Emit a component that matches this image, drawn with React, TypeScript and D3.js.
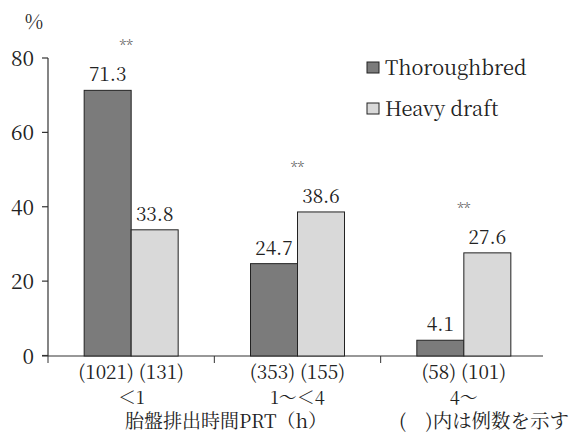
import React from "react";
import * as d3 from "d3";

const categories = ["<1", "1~<4", "4~"];
const categoryLabels = ["＜1", "1～＜4", "4～"];
const seriesNames = ["Thoroughbred", "Heavy draft"];
const thoroughbred = [71.3, 24.7, 4.1];
const heavyDraft = [33.8, 38.6, 27.6];
const countsThoroughbred = [1021, 353, 58];
const countsHeavy = [131, 155, 101];
const yTicks = [0, 20, 40, 60, 80];
const colors = ["#7b7b7b", "#d9d9d9"];

const mincho = "Noto Serif CJK JP";

export default function App() {
  const width = 572, height = 433;
  const margin = { top: 58, left: 48, right: 25, bottom: 77 };
  const y0 = height - margin.bottom;

  const x = d3.scaleBand().domain(categories).range([margin.left, width - margin.right]).padding(0);
  const xSub = d3.scaleBand().domain(seriesNames).range([0, 94]);
  const y = d3.scaleLinear().domain([0, 80]).range([y0 - 0.5, margin.top]);

  const values = [thoroughbred, heavyDraft];
  const rows = categories.map((c, i) => ({ c, i, vals: values.map(v => v[i]) }));
  const xAxisEnd = 543;
  const txt = { fontFamily: mincho, fill: "#222" } as React.CSSProperties;

  return (
    <svg width={width} height={height} style={{ display: "block", position: "absolute", left: 0, top: 0, background: "#fff" }}>
      {/* y axis */}
      <line x1={margin.left} x2={margin.left} y1={y(80)} y2={y0} stroke="#333" strokeWidth={1.2} />
      {yTicks.map(t => (
        <g key={t}>
          <line x1={margin.left - 6} x2={margin.left} y1={y(t)} y2={y(t)} stroke="#333" strokeWidth={1.2} />
          <text x={margin.left - 14} y={y(t) + 8} textAnchor="end" style={{ ...txt, fontSize: 21 }}>{t}</text>
        </g>
      ))}
      <text x={34} y={29} textAnchor="middle" style={{ ...txt, fontSize: 20 }}>%</text>

      {/* x axis */}
      <line x1={margin.left - 6} x2={xAxisEnd} y1={y0} y2={y0} stroke="#333" strokeWidth={1.2} />
      {categories.map(c => (
        <line key={c} x1={x(c)!} x2={x(c)!} y1={y0} y2={y0 + 7} stroke="#333" strokeWidth={1} />
      ))}

      {rows.map(r => {
        const cx = x(r.c)! + x.bandwidth() / 2;
        const gx = cx - 47;
        return (
          <g key={r.c}>
            {r.vals.map((v, j) => (
              <g key={j}>
                <rect x={gx + xSub(seriesNames[j])!} y={y(v)} width={xSub.bandwidth()} height={y0 - y(v)}
                  fill={colors[j]} stroke="#222" strokeWidth={1} />
                <text x={gx + xSub(seriesNames[j])! + xSub.bandwidth() / 2} y={y(v) - 9} textAnchor="middle"
                  style={{ ...txt, fontSize: 19 }}>{v}</text>
              </g>
            ))}
            <text x={r.i === 0 ? cx - 5 : cx} y={y(d3.max(r.vals)!) - 40} textAnchor="middle"
              style={{ ...txt, fontSize: 14, fill: "#555" }}>**</text>
            <text x={cx} y={379} textAnchor="middle" style={{ ...txt, fontSize: 19 }}>
              ({countsThoroughbred[r.i]}) ({countsHeavy[r.i]})
            </text>
            <text x={cx} y={404} textAnchor="middle" style={{ ...txt, fontSize: 18 }}>{categoryLabels[r.i]}</text>
          </g>
        );
      })}

      <text x={226} y={428} textAnchor="middle" style={{ ...txt, fontSize: 19 }}>胎盤排出時間PRT（h）</text>
      <text x={569} y={428} textAnchor="end" textLength={170} lengthAdjust="spacingAndGlyphs"
        style={{ ...txt, fontSize: 19 }}>(　)内は例数を示す</text>

      {/* legend */}
      {seriesNames.map((s, j) => (
        <g key={s} transform={`translate(367, ${62 + j * 41})`}>
          <rect x={0} y={0} width={12} height={11} fill={colors[j]} stroke="#222" strokeWidth={1} />
          <text x={18} y={13} style={{ ...txt, fontSize: 20 }}>{s}</text>
        </g>
      ))}
    </svg>
  );
}
